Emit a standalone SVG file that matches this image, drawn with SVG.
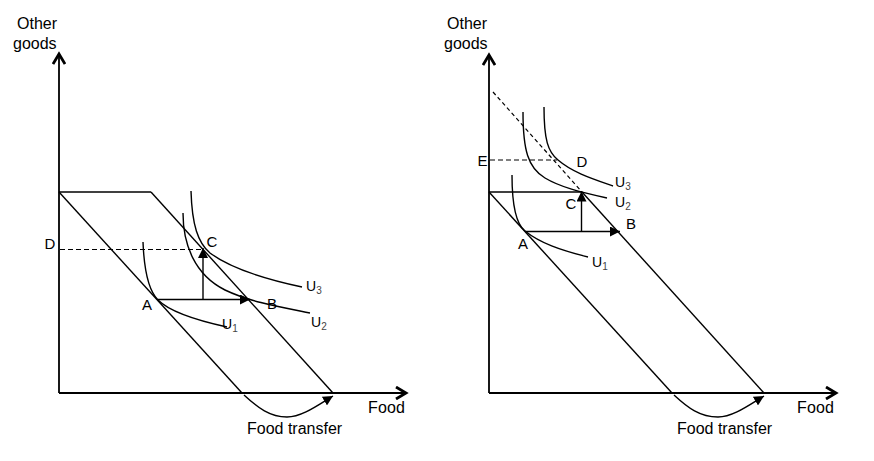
<svg xmlns="http://www.w3.org/2000/svg" width="874" height="461" viewBox="0 0 874 461">
<defs>
<style>
.ax{stroke:#000;stroke-width:1.8;fill:none}
.ln{stroke:#000;stroke-width:1.4;fill:none}
.dash{stroke:#000;stroke-width:1.2;fill:none;stroke-dasharray:5,3}
.dot{stroke:#000;stroke-width:1.2;fill:none;stroke-dasharray:4,3}
.t{font-family:"Liberation Sans",Arial,sans-serif;fill:#000}
.lab{font-size:15px}
.ttl{font-size:16px}
.u{font-size:14px}
.sub{font-size:10px;fill:#444}
</style>
<marker id="chev" markerUnits="userSpaceOnUse" viewBox="0 0 14 14" refX="11" refY="7" markerWidth="14" markerHeight="14" orient="auto">
<path d="M1,1 L11,7 L1,13" fill="none" stroke="#000" stroke-width="2.8"/>
</marker>
<marker id="tri" markerUnits="userSpaceOnUse" viewBox="0 0 10 10" refX="10" refY="5" markerWidth="10" markerHeight="10" orient="auto">
<path d="M0,0 L10,5 L0,10 z" fill="#000"/>
</marker>
</defs>
<rect width="874" height="461" fill="#fff"/>

<g id="left-panel">
<g id="left-axes">
<line class="ax" x1="59" y1="393" x2="59" y2="54" marker-end="url(#chev)"/>
<line class="ax" x1="59" y1="393" x2="406" y2="393" marker-end="url(#chev)"/>
<text class="t ttl" x="17" y="28.5">Other</text>
<text class="t ttl" x="13" y="49">goods</text>
<text class="t ttl" x="368" y="413" textLength="37" lengthAdjust="spacing">Food</text>
</g>
<g id="left-budget">
<line class="ln" x1="59" y1="192" x2="242" y2="393"/>
<line class="ln" x1="59" y1="192" x2="151" y2="192"/>
<line class="ln" x1="151" y1="192" x2="333" y2="393"/>
<line class="dash" x1="60" y1="249.5" x2="203" y2="249.5"/>
</g>
<g id="left-U1">
<path class="ln" d="M143,242 C144,268 148,290 158,300 C170,312 195,320 227,327"/>
<text class="t u" x="222" y="328.5">U<tspan class="sub" dy="3">1</tspan></text>
</g>
<g id="left-U2">
<path class="ln" d="M183,213 C183,245 195,275 225,290 C250,302 280,307 310,313"/>
<text class="t u" x="311" y="327">U<tspan class="sub" dy="3">2</tspan></text>
</g>
<g id="left-U3">
<path class="ln" d="M191,191 C192,225 198,243 210,253 C230,268 260,278 302,287"/>
<text class="t u" x="306" y="291">U<tspan class="sub" dy="3">3</tspan></text>
</g>
<g id="left-points">
<text class="t lab" x="50" y="248.5" text-anchor="middle">D</text>
<text class="t lab" x="212" y="247" text-anchor="middle">C</text>
<text class="t lab" x="147" y="309.5" text-anchor="middle">A</text>
<text class="t lab" x="272" y="308.7" text-anchor="middle">B</text>
</g>
<text class="t ttl" x="247" y="434">Food transfer</text>
</g>

<g id="right-panel">
<g id="right-axes">
<line class="ax" x1="489" y1="393" x2="489" y2="55" marker-end="url(#chev)"/>
<line class="ax" x1="489" y1="393" x2="836" y2="393" marker-end="url(#chev)"/>
<text class="t ttl" x="447" y="28.5">Other</text>
<text class="t ttl" x="444" y="49">goods</text>
<text class="t ttl" x="797" y="413" textLength="37" lengthAdjust="spacing">Food</text>
</g>
<g id="right-budget">
<line class="ln" x1="489" y1="192" x2="672" y2="393"/>
<line class="ln" x1="489" y1="192" x2="582" y2="192"/>
<line class="ln" x1="582" y1="192" x2="764" y2="393"/>
<line class="dot" x1="493" y1="92" x2="582" y2="192"/>
<line class="dash" x1="490" y1="160" x2="557" y2="160"/>
</g>
<g id="right-U1">
<path class="ln" d="M512,175 C512,205 516,224 525,231 C540,243 560,250 588,257"/>
<text class="t u" x="592" y="267">U<tspan class="sub" dy="3">1</tspan></text>
</g>
<g id="right-U2">
<path class="ln" d="M523,112 C523,150 528,168 545,178 C560,187 580,192 607,198"/>
<text class="t u" x="615" y="207">U<tspan class="sub" dy="3">2</tspan></text>
</g>
<g id="right-U3">
<path class="ln" d="M544,107 C544,140 548,152 558,160 C572,172 590,178 613,186"/>
<text class="t u" x="615" y="187">U<tspan class="sub" dy="3">3</tspan></text>
</g>
<g id="right-points">
<text class="t lab" x="482.5" y="165.5" text-anchor="middle">E</text>
<text class="t lab" x="582" y="167" text-anchor="middle">D</text>
<text class="t lab" x="571" y="208.7" text-anchor="middle">C</text>
<text class="t lab" x="631" y="228.7" text-anchor="middle">B</text>
<text class="t lab" x="523" y="248.7" text-anchor="middle">A</text>
</g>
<text class="t ttl" x="677" y="434">Food transfer</text>
</g>

<g id="connectors">
<line class="ln" x1="158" y1="299.5" x2="250" y2="299.5" marker-end="url(#tri)"/>
<line class="ln" x1="203" y1="299.5" x2="203" y2="248" marker-end="url(#tri)"/>
<path class="ln" stroke-width="1.8" d="M244,395 C258,408 270,417 287,417 C302,417 318,405 333,396" marker-end="url(#tri)"/>
<line class="ln" x1="525" y1="231.5" x2="620" y2="231.5" marker-end="url(#tri)"/>
<line class="ln" x1="581.5" y1="231.5" x2="581.5" y2="191.5" marker-end="url(#tri)"/>
<path class="ln" stroke-width="1.8" d="M674,395 C688,408 700,417 718,417 C733,417 749,405 764,396" marker-end="url(#tri)"/>
</g>
</svg>
